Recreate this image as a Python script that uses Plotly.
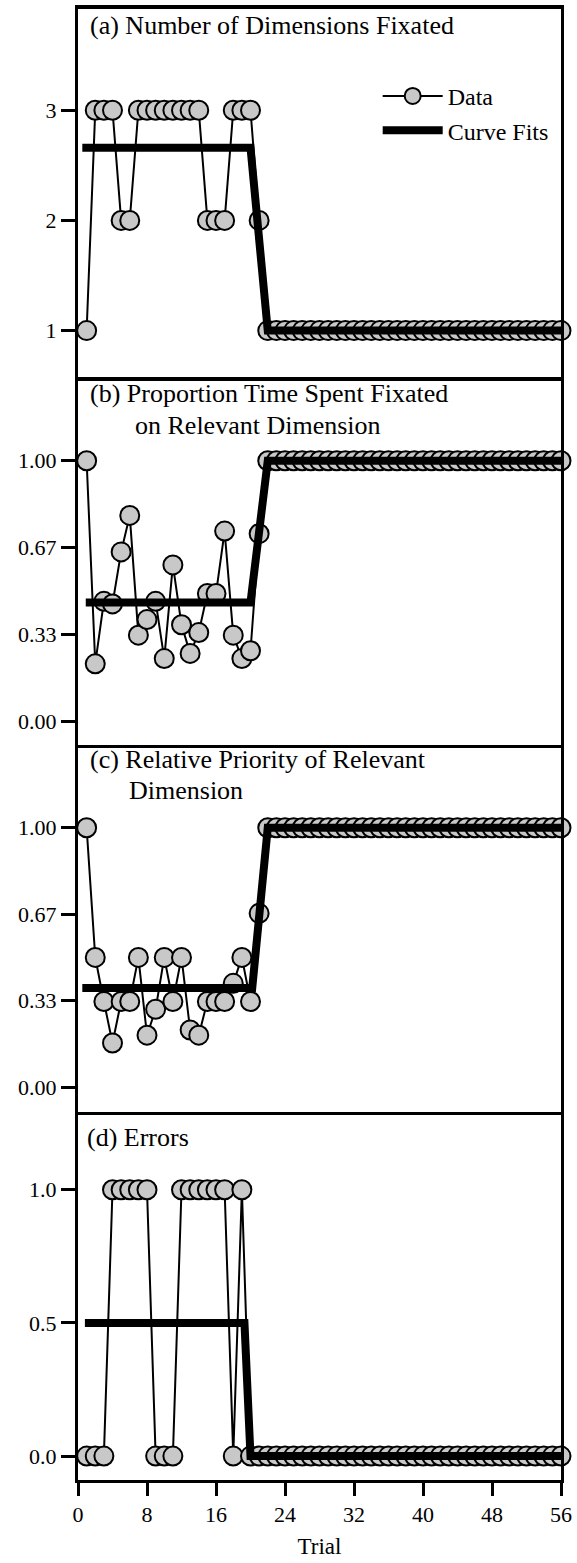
import plotly.graph_objects as go
from plotly.subplots import make_subplots

trials = list(range(1, 57))

dims_fixated = [1, 3, 3, 3, 2, 2, 3, 3, 3, 3, 3, 3, 3, 3, 2, 2, 2, 3, 3, 3, 2,
                1, 1, 1, 1, 1, 1, 1, 1, 1, 1, 1, 1, 1, 1, 1, 1, 1, 1, 1, 1,
                1, 1, 1, 1, 1, 1, 1, 1, 1, 1, 1, 1, 1, 1, 1]

prop_time_relevant = [1.00, 0.22, 0.46, 0.45, 0.65, 0.79, 0.33, 0.39, 0.46, 0.24,
                      0.60, 0.37, 0.26, 0.34, 0.49, 0.49, 0.73, 0.33, 0.24, 0.27,
                      0.72, 1.00, 1.00, 1.00, 1.00, 1.00, 1.00, 1.00, 1.00, 1.00,
                      1.00, 1.00, 1.00, 1.00, 1.00, 1.00, 1.00, 1.00, 1.00, 1.00,
                      1.00, 1.00, 1.00, 1.00, 1.00, 1.00, 1.00, 1.00, 1.00, 1.00,
                      1.00, 1.00, 1.00, 1.00, 1.00, 1.00]

rel_priority = [1.00, 0.50, 0.33, 0.17, 0.33, 0.33, 0.50, 0.20, 0.30, 0.50,
                0.33, 0.50, 0.22, 0.20, 0.33, 0.33, 0.33, 0.40, 0.50, 0.33,
                0.67, 1.00, 1.00, 1.00, 1.00, 1.00, 1.00, 1.00, 1.00, 1.00,
                1.00, 1.00, 1.00, 1.00, 1.00, 1.00, 1.00, 1.00, 1.00, 1.00,
                1.00, 1.00, 1.00, 1.00, 1.00, 1.00, 1.00, 1.00, 1.00, 1.00,
                1.00, 1.00, 1.00, 1.00, 1.00, 1.00]

errors = [0, 0, 0, 1, 1, 1, 1, 1, 0, 0, 0, 1, 1, 1, 1, 1, 1, 0, 1, 0,
          0, 0, 0, 0, 0, 0, 0, 0, 0, 0, 0, 0, 0, 0, 0, 0, 0, 0, 0, 0,
          0, 0, 0, 0, 0, 0, 0, 0, 0, 0, 0, 0, 0, 0, 0, 0]

fit_a_x = [0.5, 20.0, 22.0, 56.0]
fit_a_y = [2.66, 2.66, 1.0, 1.0]
fit_b_x = [0.9, 20.0, 22.0, 56.0]
fit_b_y = [0.456, 0.456, 1.0, 1.0]
fit_c_x = [0.5, 20.2, 22.0, 56.0]
fit_c_y = [0.382, 0.382, 1.0, 1.0]
fit_d_x = [0.8, 19.3, 20.0, 56.0]
fit_d_y = [0.5, 0.5, 0.0, 0.0]

x_ticks = [0, 8, 16, 24, 32, 40, 48, 56]
a_ticks = [1, 2, 3]
a_labels = ["1", "2", "3"]
bc_ticks = [0, 1 / 3, 2 / 3, 1]
bc_labels = ["0.00", "0.33", "0.67", "1.00"]
d_ticks = [0, 0.5, 1]
d_labels = ["0.0", "0.5", "1.0"]

FONT = "Liberation Serif, Times New Roman, DejaVu Serif, serif"
GRAY = "#c8c8c8"

fig = make_subplots(rows=4, cols=1, shared_xaxes=True, vertical_spacing=0)

series = [
    (dims_fixated, fit_a_x, fit_a_y),
    (prop_time_relevant, fit_b_x, fit_b_y),
    (rel_priority, fit_c_x, fit_c_y),
    (errors, fit_d_x, fit_d_y),
]

for i, (vals, fx, fy) in enumerate(series, start=1):
    fig.add_trace(go.Scatter(
        x=trials, y=vals, mode="lines+markers", name="Data",
        showlegend=(i == 1), legendrank=1,
        line=dict(color="black", width=2),
        marker=dict(symbol="circle", size=19, color=GRAY,
                    line=dict(color="black", width=2)),
        cliponaxis=False,
    ), row=i, col=1)
    fig.add_trace(go.Scatter(
        x=fx, y=fy, mode="lines", name="Curve Fits",
        showlegend=(i == 1), legendrank=2,
        line=dict(color="black", width=8),
        cliponaxis=False,
    ), row=i, col=1)

y_ranges = [[0.5814, 3.9186], [-0.090, 1.3228], [-0.0971, 1.321], [-0.0899, 1.291]]
y_tickvals = [a_ticks, bc_ticks, bc_ticks, d_ticks]
y_ticktext = [a_labels, bc_labels, bc_labels, d_labels]

for i in range(1, 5):
    fig.update_xaxes(
        row=i, col=1, range=[0, 56], showline=True, mirror=(i == 1),
        linecolor="black", linewidth=4 if i == 1 else 3,
        showgrid=False, zeroline=False,
        ticks="outside" if i == 4 else "", ticklen=13, tickwidth=3,
        tickcolor="black", tickvals=x_ticks,
        tickfont=dict(family=FONT, size=22, color="black"),
    )
    fig.update_yaxes(
        row=i, col=1, range=y_ranges[i - 1], showline=True, mirror=True,
        linecolor="black", linewidth=3, showgrid=False, zeroline=False,
        ticks="outside", ticklen=14, tickwidth=3, tickcolor="black",
        tickvals=y_tickvals[i - 1], ticktext=y_ticktext[i - 1],
        tickfont=dict(family=FONT, size=22, color="black"),
    )

fig.update_xaxes(row=4, col=1, title=dict(text="Trial", standoff=12,
                 font=dict(family=FONT, size=23, color="black")))

title_font = dict(family=FONT, size=26, color="black")
panel_titles = [
    ("(a) Number of Dimensions Fixated", 0.0206, 0.9891),
    ("(b) Proportion Time Spent Fixated", 0.0206, 0.7383),
    ("on Relevant Dimension", 0.1134, 0.7166),
    ("(c) Relative Priority of Relevant", 0.0206, 0.4895),
    ("Dimension", 0.101, 0.4685),
    ("(d) Errors", 0.0144, 0.2329),
]
for text, px, py in panel_titles:
    fig.add_annotation(text=text, xref="paper", yref="paper", x=px, y=py,
                       xanchor="left", yanchor="middle", showarrow=False,
                       font=title_font)

fig.update_layout(
    width=577, height=1563,
    margin=dict(l=78, r=14, t=5, b=83),
    paper_bgcolor="white", plot_bgcolor="white",
    font=dict(family=FONT, size=22, color="black"),
    legend=dict(x=0.6205, y=0.9559, xanchor="left", yanchor="top",
                bgcolor="rgba(0,0,0,0)", font=dict(family=FONT, size=24),
                itemwidth=60, tracegroupgap=0),
)

fig.write_html(
    "out.html",
    config={"displayModeBar": False},
    post_script="document.body.style.margin='0';document.body.style.overflow='hidden';",
)
